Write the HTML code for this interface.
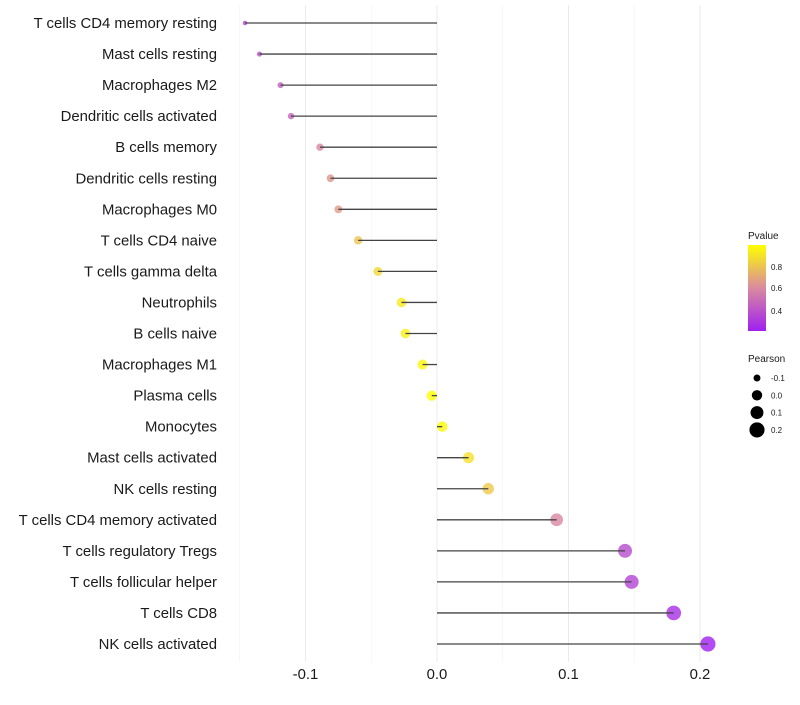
<!DOCTYPE html>
<html><head><meta charset="utf-8"><style>
body{margin:0;background:#fff;}
svg text{font-family:"Liberation Sans",sans-serif;}
</style></head><body>
<svg id="chart" width="800" height="700">
<defs><linearGradient id="pg" x1="0" y1="1" x2="0" y2="0">
<stop offset="0" stop-color="#a020f0"/><stop offset="0.5" stop-color="#d98aa0"/><stop offset="1" stop-color="#ffff00"/>
</linearGradient></defs>
<g id="grid"></g><g id="dots"></g><g id="marks"></g><g id="labels"></g>
<g>
<text x="748" y="239" font-size="10" fill="#1a1a1a">Pvalue</text>
<rect x="748" y="245" width="18" height="86" fill="url(#pg)"/>
<text x="771" y="270" font-size="8" fill="#1a1a1a">0.8</text>
<text x="771" y="291" font-size="8" fill="#1a1a1a">0.6</text>
<text x="771" y="314" font-size="8" fill="#1a1a1a">0.4</text>
</g>
<g id="sizeleg">
<text x="748" y="362" font-size="10" fill="#1a1a1a">Pearson</text>
</g>
</svg>
<script>
const categories=["T cells CD4 memory resting","Mast cells resting","Macrophages M2","Dendritic cells activated","B cells memory","Dendritic cells resting","Macrophages M0","T cells CD4 naive","T cells gamma delta","Neutrophils","B cells naive","Macrophages M1","Plasma cells","Monocytes","Mast cells activated","NK cells resting","T cells CD4 memory activated","T cells regulatory  Tregs ","T cells follicular helper","T cells CD8","NK cells activated"];
const pearson=[-0.146,-0.135,-0.119,-0.111,-0.089,-0.081,-0.075,-0.060,-0.045,-0.027,-0.024,-0.011,-0.004,0.004,0.024,0.039,0.091,0.143,0.148,0.180,0.206];
const pvalues=[0.35,0.4,0.45,0.47,0.6,0.65,0.67,0.8,0.87,0.93,0.95,0.97,1.0,0.98,0.9,0.82,0.6,0.38,0.35,0.27,0.22];
const xTicks=[-0.1,0.0,0.1,0.2];
const xTickLabels=["-0.1","0.0","0.1","0.2"];
const sizeLegend=[-0.1,0.0,0.1,0.2];
const sizeLegendLabels=["-0.1","0.0","0.1","0.2"];
const NS="http://www.w3.org/2000/svg";
const x=v=>437+v*1315;
const y=i=>23+i*31.05;
const r=v=>Math.sqrt(Math.max(1,27+150*v));
function lerp(a,b,t){return a.map((c,k)=>Math.round(c+(b[k]-c)*t));}
function col(p){const t=Math.max(0,Math.min(1,(p-0.22)/0.78));
 const s=[[160,32,240],[217,138,160],[255,255,0]];
 const c=t<0.5?lerp(s[0],s[1],t*2):lerp(s[1],s[2],(t-0.5)*2);return `rgb(${c})`;}
function mk(tag,at,parent){const e=document.createElementNS(NS,tag);for(const k in at)e.setAttribute(k,at[k]);parent.appendChild(e);return e;}
const grid=document.getElementById('grid'),marks=document.getElementById('marks'),dots=document.getElementById('dots'),labels=document.getElementById('labels');
[-0.15,-0.1,-0.05,0,0.05,0.1,0.15,0.2].forEach(v=>{const major=Math.abs(Math.round(v*100))%10===0;
 const l=mk('line',{x1:x(v),x2:x(v),y1:5,y2:662,stroke:major?'#ebebeb':'#f3f3f3','stroke-width':major?1:0.6},grid);
 
 });
categories.forEach((c,i)=>{
 const t=mk('text',{x:217,y:y(i)+5,'font-size':14.9,'text-anchor':'end',fill:'#1a1a1a'},labels);t.textContent=c;
 
 
 const d=mk('circle',{cx:x(pearson[i]),cy:y(i),r:r(pearson[i]),fill:col(pvalues[i]),'fill-opacity':0.8},dots);
 
 
 const l=mk('line',{x1:x(0),x2:x(pearson[i]),y1:y(i),y2:y(i),stroke:'#444','stroke-width':1.3},marks);
 
 
});
xTicks.forEach((v,i)=>{const t=mk('text',{x:x(v),y:679,'font-size':14.9,'text-anchor':'middle',fill:'#1a1a1a'},labels);t.textContent=xTickLabels[i];
 
 });
const sl=document.getElementById('sizeleg');
sizeLegend.forEach((v,i)=>{const cy=378+i*17.3;
 const c=mk('circle',{cx:757,cy:cy,r:r(v),fill:'#000'},sl);
 
 
 const t=mk('text',{x:771,y:cy+3,'font-size':8,fill:'#1a1a1a'},sl);t.textContent=sizeLegendLabels[i];
 
 });
</script>
</body></html>
